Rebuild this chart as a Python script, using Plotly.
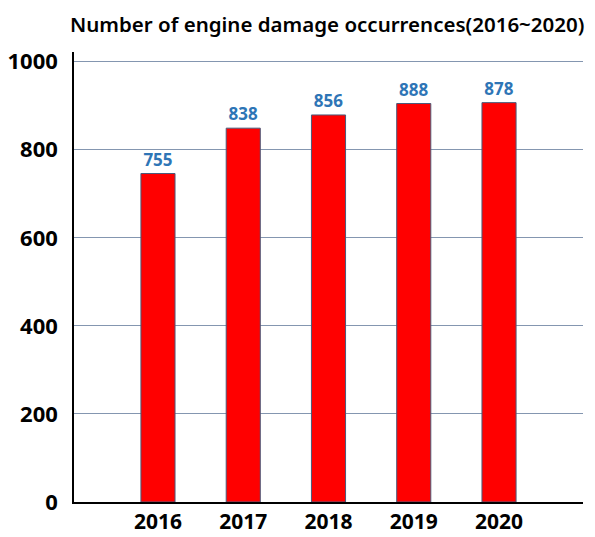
import plotly.graph_objects as go

years = ["2016", "2017", "2018", "2019", "2020"]
bar_heights = [746, 849, 879, 905, 907]
label_values = ["755", "838", "856", "888", "878"]
y_ticks = [0, 200, 400, 600, 800, 1000]

fig = go.Figure()
fig.add_trace(go.Bar(
    x=list(range(len(years))),
    y=bar_heights,
    width=0.4,
    marker=dict(color="#FF0000", line=dict(color="#4A5A7A", width=1)),
    text=label_values,
    textposition="outside",
    textfont=dict(family="Noto Sans", size=17, color="#2E75B6", weight="bold"),
    cliponaxis=False,
))

fig.update_layout(
    width=595, height=537,
    margin=dict(l=74, r=12, t=52, b=35),
    plot_bgcolor="white", paper_bgcolor="white",
    showlegend=False,
    xaxis=dict(
        range=[-0.985, 4.985],
        tickmode="array",
        tickvals=list(range(len(years))),
        ticktext=years,
        showgrid=False,
        showline=True, linecolor="black", linewidth=1.5,
        ticks="",
        automargin=False,
        tickfont=dict(family="Noto Sans", size=21, color="black", weight="bold"),
        ticklabelstandoff=0,
    ),
    yaxis=dict(
        range=[0, 1022],
        tickmode="array",
        tickvals=y_ticks,
        showgrid=True, gridcolor="#8496B0", gridwidth=1,
        zeroline=False,
        showline=True, linecolor="black", linewidth=1.5,
        ticks="",
        automargin=False,
        tickfont=dict(family="Noto Sans", size=22, color="black", weight="bold"),
        ticklabelstandoff=10,
    ),
    annotations=[dict(
        text="Number of engine damage occurrences(2016~2020)",
        xref="paper", yref="paper", x=0.497, y=1.062,
        xanchor="center", yanchor="middle", showarrow=False,
        font=dict(family="Noto Sans", size=20.5, color="black", weight=600),
    )],
)

fig.write_html("out.html")
